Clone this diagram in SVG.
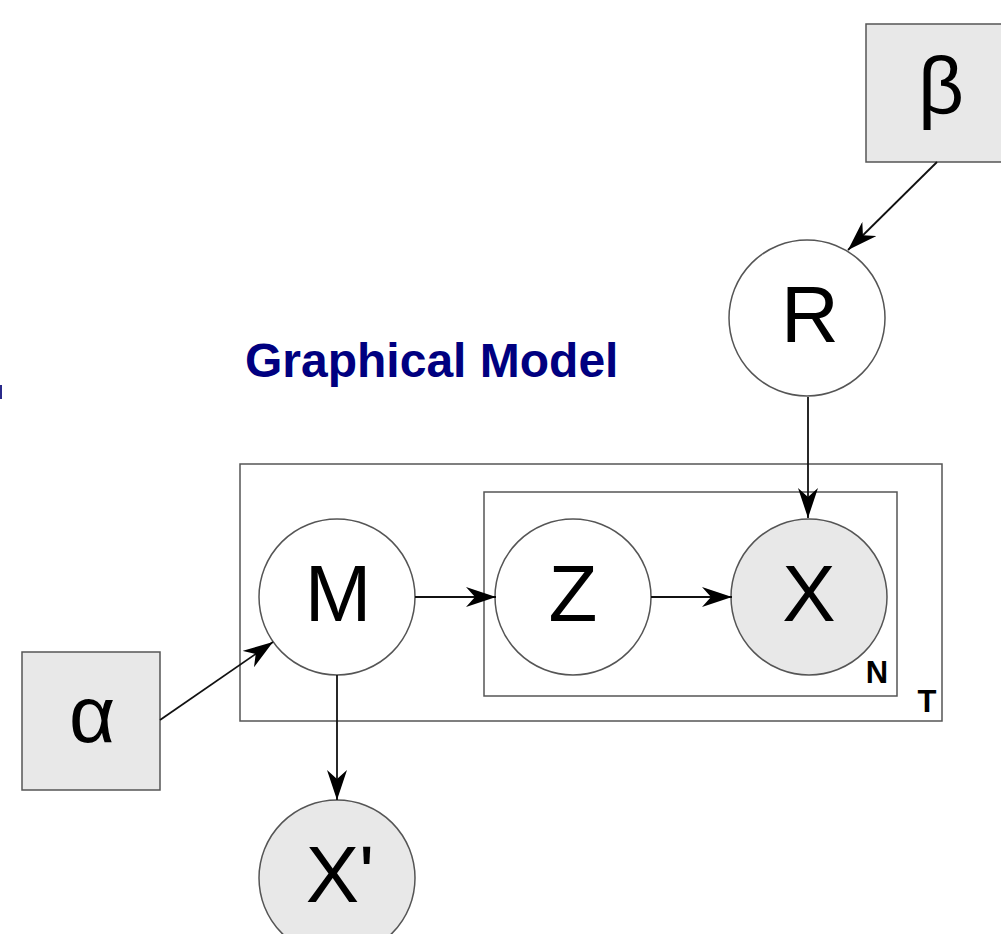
<svg xmlns="http://www.w3.org/2000/svg" width="1001" height="934" viewBox="0 0 1001 934">
<style>
.node{stroke:#555;stroke-width:1.5}
.open{fill:#fff}
.obs{fill:#e8e8e8}
.lbl{font-family:"Liberation Sans",Arial,sans-serif;font-size:80px;fill:#000;text-anchor:middle}
.plate{fill:none;stroke:#555;stroke-width:1.5}
.edge{stroke:#111;stroke-width:1.8;fill:none;marker-end:url(#ah)}
.small{font-family:"Liberation Sans",Arial,sans-serif;font-size:31px;font-weight:bold;fill:#000;text-anchor:middle}
</style>
<defs>
<marker id="ah" markerUnits="userSpaceOnUse" markerWidth="32" markerHeight="20" refX="30" refY="10" orient="auto">
<path d="M0,0 L30,10 L0,20 L9,10 z" fill="#000"/>
</marker>
</defs>
<rect width="1001" height="934" fill="#fff"/>
<rect x="0" y="385" width="2" height="14" fill="#2a2a8a"/>
<text x="245" y="377" font-family="Liberation Sans,Arial,sans-serif" font-weight="bold" font-size="48" fill="#000080">Graphical Model</text>
<g id="plates">
<rect class="plate" x="240" y="464" width="702" height="257"/>
<rect class="plate" x="484" y="492" width="413" height="204"/>
<text class="small" x="877" y="683">N</text>
<text class="small" x="927" y="712">T</text>
</g>
<g id="beta"><rect class="node obs" x="866" y="24" width="140" height="138"/><text class="lbl" x="941" y="113">β</text></g>
<g id="R"><circle class="node open" cx="807" cy="318" r="78"/><text class="lbl" x="810" y="342">R</text></g>
<g id="M"><circle class="node open" cx="337" cy="597" r="78"/><text class="lbl" x="338" y="621">M</text></g>
<g id="Z"><circle class="node open" cx="573" cy="597" r="78"/><text class="lbl" x="573" y="621">Z</text></g>
<g id="X"><circle class="node obs" cx="809" cy="597" r="78"/><text class="lbl" x="809" y="621">X</text></g>
<g id="alpha"><rect class="node obs" x="22" y="652" width="138" height="138"/><text class="lbl" x="92" y="742">α</text></g>
<g id="Xp"><circle class="node obs" cx="337" cy="878" r="78"/><text class="lbl" x="340" y="902">X'</text></g>
<g id="connectors">
<line class="edge" x1="937" y1="162" x2="848" y2="250"/>
<line class="edge" x1="808" y1="397" x2="808" y2="518"/>
<line class="edge" x1="415" y1="597" x2="496" y2="597"/>
<line class="edge" x1="651" y1="597" x2="732" y2="597"/>
<line class="edge" x1="160" y1="720" x2="273" y2="642"/>
<line class="edge" x1="337" y1="675" x2="337" y2="800"/>
</g>
</svg>
